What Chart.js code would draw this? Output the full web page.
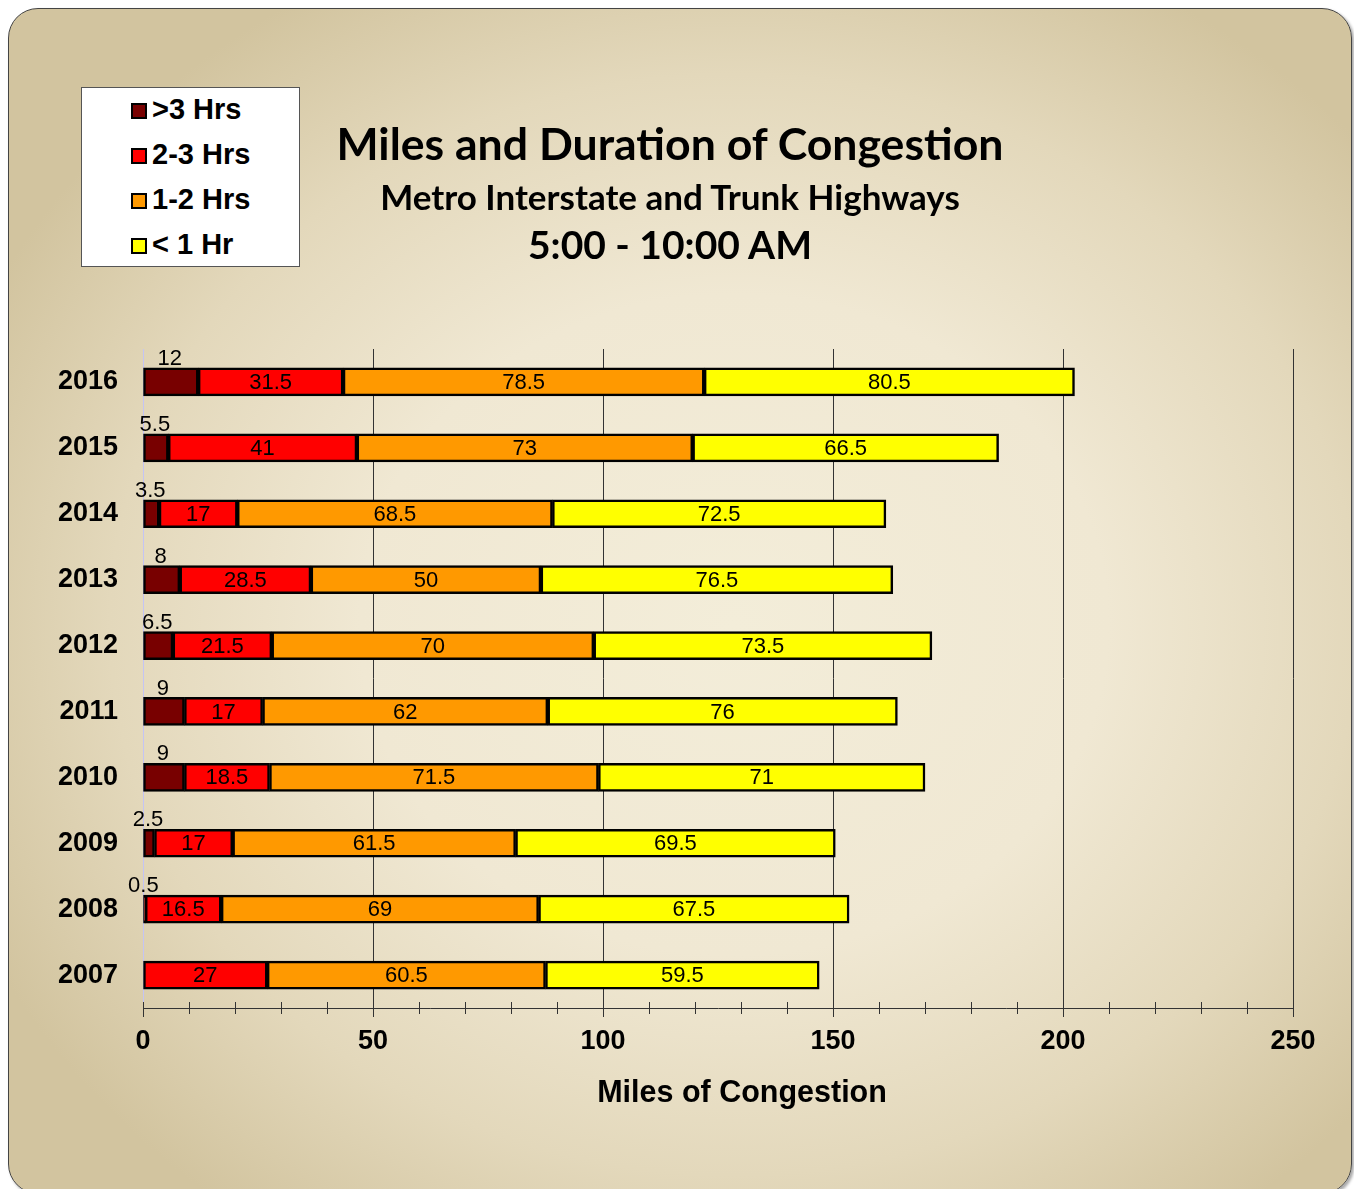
<!DOCTYPE html>
<html>
<head>
<meta charset="utf-8">
<script src="https://cdn.jsdelivr.net/npm/chart.js@4.4.1/dist/chart.umd.min.js"></script>
<style>
    html, body { margin: 0; padding: 0; width: 1354px; height: 1189px; overflow: hidden; background: #fff; }
    #frame {
        position: absolute; left: 8px; top: 8px; width: 1342px; height: 1184px;
        border: 1px solid #444; border-radius: 30px;
        background: radial-gradient(ellipse 62% 62% at 54% 52%, #f3edd9 0%, #f0e8d3 45%, #e3d8bb 75%, #d2c49f 100%);
        box-shadow: 2px 2px 3px rgba(0,0,0,0.35);
    }
    #chartWrap { position: absolute; left: 0; top: 0; width: 1354px; height: 1189px; }
    #legend {
        position: absolute; left: 81px; top: 87px; width: 217px; height: 178px;
        background: #fff; border: 1px solid #555;
        font-family: "Liberation Sans", Arial, sans-serif; font-weight: bold; font-size: 29px;
    }
    .legend-item { position: absolute; left: 49px; height: 30px; line-height: 30px; white-space: nowrap; }
    .legend-item .box { display: inline-block; width: 12px; height: 12px; border: 2px solid #000; margin-right: 5px; vertical-align: 0px; }
    .titles { position: absolute; left: 270px; width: 800px; text-align: center; font-family: Lato, "Open Sans", sans-serif; font-weight: bold; color: #000; white-space: nowrap; }
    #xTitle { position: absolute; left: 542px; width: 400px; top: 1074px; text-align: center; font-family: "Liberation Sans", Arial, sans-serif; font-weight: bold; font-size: 30.5px; color: #000; }
</style>
</head>
<body>
<div id="frame"></div>
<div id="chartWrap"><canvas id="congestionChart" width="1354" height="1189"></canvas></div>
<div id="legend"></div>
<div class="titles" style="top:116px;font-size:44.6px;">Miles and Duration of Congestion</div>
<div class="titles" style="top:175px;font-size:35px;">Metro Interstate and Trunk Highways</div>
<div class="titles" style="top:221px;font-size:39px;">5:00 - 10:00 AM</div>
<div id="xTitle">Miles of Congestion</div>
<script>
// anos, de cima pra baixo
const years = ['2016', '2015', '2014', '2013', '2012', '2011', '2010', '2009', '2008', '2007'];

const seriesNames = ['>3 Hrs', '2-3 Hrs', '1-2 Hrs', '< 1 Hr'];
const seriesColors = ['#780000', '#ff0000', '#ff9900', '#ffff00'];

const over3Hrs   = [12, 5.5, 3.5, 8, 6.5, 9, 9, 2.5, 0.5, 0];
const twoTo3Hrs  = [31.5, 41, 17, 28.5, 21.5, 17, 18.5, 17, 16.5, 27];
const oneTo2Hrs  = [78.5, 73, 68.5, 50, 70, 62, 71.5, 61.5, 69, 60.5];
const under1Hr   = [80.5, 66.5, 72.5, 76.5, 73.5, 76, 71, 69.5, 67.5, 59.5];

const xTickLabels = [0, 50, 100, 150, 200, 250];

const seriesValues = [over3Hrs, twoTo3Hrs, oneTo2Hrs, under1Hr];

// legenda em HTML
const legendEl = document.getElementById('legend');
seriesNames.forEach((name, i) => {
    legendEl.innerHTML += `
        <div class="legend-item" style="top:${6 + i * 45}px">
            <span class="box" style="background:${seriesColors[i]}"></span>${name}
        </div>`;
});

// desenha os valores nas barras
const valueLabels = {
    id: 'valueLabels',
    afterDatasetsDraw(chart) {
        const ctx = chart.ctx;
        ctx.save();
        ctx.font = '22px "Liberation Sans", Arial, sans-serif';
        ctx.fillStyle = '#000';
        ctx.textAlign = 'center';
        chart.data.datasets.forEach((ds, di) => {
            const meta = chart.getDatasetMeta(di);
            meta.data.forEach((bar, i) => {
                const v = ds.data[i];
                if (!v) return;
                const cx = (bar.x + bar.base) / 2;
                if (di === 0) {
                    // rótulo do primeiro segmento fica acima da barra
                    ctx.textBaseline = 'bottom';
                    ctx.fillText(String(v), cx - 1, bar.y - bar.height / 2 + 2);
                } else {
                    ctx.textBaseline = 'middle';
                    ctx.fillText(String(v), cx, bar.y + 1);
                }
            });
        });
        ctx.restore();
    }
};

// marcas menores cruzando o eixo x
const axisTicks = {
    id: 'axisTicks',
    afterDraw(chart) {
        const ctx = chart.ctx;
        const xs = chart.scales.x;
        const y0 = chart.chartArea.bottom;
        ctx.save();
        ctx.strokeStyle = '#333';
        ctx.lineWidth = 1;
        xs.ticks.forEach(t => {
            const px = Math.round(xs.getPixelForValue(t.value)) + 0.5;
            const major = xTickLabels.includes(t.value);
            ctx.beginPath();
            ctx.moveTo(px, y0 - 6);
            ctx.lineTo(px, y0 + (major ? 9 : 6));
            ctx.stroke();
        });
        ctx.restore();
    }
};

const ctx = document.getElementById('congestionChart').getContext('2d');
new Chart(ctx, {
    type: 'bar',
    data: {
        labels: years,
        datasets: seriesValues.map((vals, i) => ({
            label: seriesNames[i],
            data: vals,
            backgroundColor: seriesColors[i],
            borderColor: '#000',
            borderWidth: 2.5,
            borderSkipped: false,
            barThickness: 28
        }))
    },
    options: {
        indexAxis: 'y',
        responsive: false,
        animation: false,
        layout: { padding: { top: 349, right: 61, left: 0, bottom: 0 } },
        plugins: {
            legend: { display: false },
            tooltip: { enabled: false }
        },
        scales: {
            x: {
                stacked: true,
                min: 0,
                max: 250,
                afterFit: (scale) => { scale.height = 181; },
                afterBuildTicks: (scale) => {
                    const t = [];
                    for (let v = 0; v <= 250; v += 10) t.push({ value: v });
                    scale.ticks = t;
                },
                ticks: {
                    autoSkip: false,
                    maxRotation: 0,
                    padding: 9,
                    color: '#000',
                    font: { family: '"Liberation Sans", Arial, sans-serif', size: 27, weight: 'bold' },
                    callback: (v) => xTickLabels.includes(v) ? String(v) : ''
                },
                grid: {
                    color: (c) => (c.tick && c.tick.value > 0 && xTickLabels.includes(c.tick.value)) ? '#333' : 'rgba(0,0,0,0)',
                    drawTicks: true,
                    tickColor: 'rgba(0,0,0,0)',
                    tickLength: 8,
                    lineWidth: 1
                },
                border: { display: true, color: '#333', width: 1 }
            },
            y: {
                stacked: true,
                afterFit: (scale) => { scale.width = 143; },
                ticks: {
                    padding: 25,
                    color: '#000',
                    font: { family: '"Liberation Sans", Arial, sans-serif', size: 27, weight: 'bold' }
                },
                grid: { display: false, drawTicks: false },
                border: { display: true, color: '#c4c4f4', width: 1 }
            }
        }
    },
    plugins: [valueLabels, axisTicks]
});
</script>
</body>
</html>
